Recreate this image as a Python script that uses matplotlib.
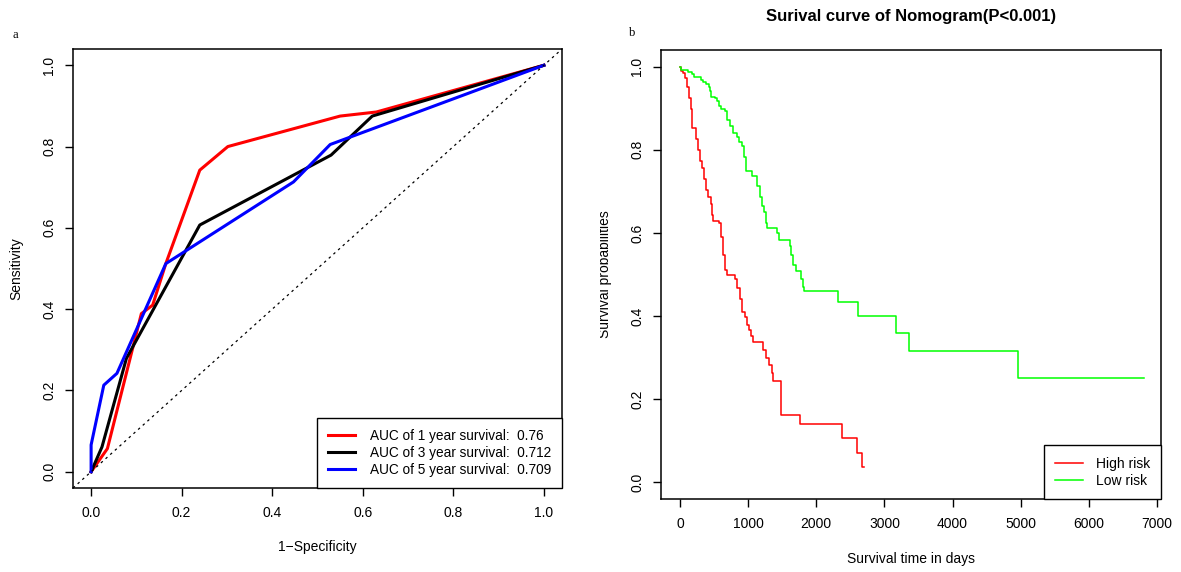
import numpy as np
import matplotlib
matplotlib.use("Agg")
import matplotlib.pyplot as plt
from matplotlib.transforms import Bbox, TransformedBbox

plt.rcParams["font.family"] = ["Liberation Sans", "DejaVu Sans"]

# ROC curves (1-specificity, sensitivity)
fpr_1y = [0, 0.036, 0.111, 0.136, 0.165, 0.24, 0.302, 0.55, 0.63, 1.0]
tpr_1y = [0, 0.057, 0.389, 0.41, 0.512, 0.742, 0.80, 0.875, 0.885, 1.0]
fpr_3y = [0, 0.024, 0.078, 0.24, 0.53, 0.621, 1.0]
tpr_3y = [0, 0.061, 0.279, 0.607, 0.779, 0.875, 1.0]
fpr_5y = [0, 0, 0.028, 0.057, 0.165, 0.447, 0.528, 1.0]
tpr_5y = [0, 0.066, 0.213, 0.242, 0.512, 0.713, 0.805, 1.0]
auc_labels = ["AUC of 1 year survival:  0.76",
              "AUC of 3 year survival:  0.712",
              "AUC of 5 year survival:  0.709"]

# Kaplan-Meier steps (days, survival)
t_high = [0, 20, 44, 72, 100, 127, 155, 175, 232, 266, 294, 321, 349, 377,
          416, 449, 471, 488, 571, 599, 626, 654, 693, 804, 837, 876, 904,
          948, 976, 1014, 1042, 1067, 1224, 1269, 1303, 1350, 1371, 1487,
          1766, 2378, 2599, 2667, 2700]
s_high = [1.0, 0.99, 0.985, 0.972, 0.95, 0.924, 0.897, 0.853, 0.827, 0.80,
          0.774, 0.757, 0.730, 0.704, 0.687, 0.669, 0.643, 0.629, 0.625,
          0.59, 0.546, 0.511, 0.498, 0.489, 0.467, 0.441, 0.41, 0.397,
          0.379, 0.366, 0.353, 0.338, 0.318, 0.30, 0.283, 0.263, 0.245,
          0.163, 0.141, 0.106, 0.071, 0.037, 0.037]
t_low = [0, 17, 116, 172, 210, 305, 338, 377, 421, 438, 460, 516, 543, 571,
         599, 654, 693, 737, 782, 837, 865, 904, 942, 970, 1059, 1136, 1170,
         1208, 1236, 1264, 1280, 1430, 1447, 1608, 1624, 1652, 1707, 1779,
         1802, 1824, 2315, 2605, 3176, 3359, 4967, 6813]
s_low = [1.0, 0.991, 0.987, 0.982, 0.976, 0.969, 0.963, 0.958, 0.952, 0.941,
         0.928, 0.925, 0.917, 0.906, 0.899, 0.893, 0.871, 0.858, 0.840,
         0.831, 0.818, 0.809, 0.783, 0.75, 0.737, 0.713, 0.687, 0.665, 0.651,
         0.625, 0.612, 0.599, 0.583, 0.568, 0.546, 0.524, 0.508, 0.489,
         0.471, 0.461, 0.433, 0.400, 0.36, 0.315, 0.252, 0.252]

W, H = 1181, 572


def px_axes(fig, x0, y0, x1, y1):
    # pixel box (top-left origin) -> figure fraction axes
    return fig.add_axes([x0 / W, 1 - y1 / H, (x1 - x0) / W, (y1 - y0) / H])


def style(ax):
    for s in ax.spines.values():
        s.set_linewidth(1.1)
    ax.tick_params(length=6, width=1.0, labelsize=10, direction="out")
    ax.tick_params(axis="x", pad=7)
    ax.tick_params(axis="y", pad=6)
    for lab in ax.get_yticklabels():
        lab.set_rotation(90)
        lab.set_va("center")


fig = plt.figure(figsize=(W / 100, H / 100), dpi=100)

# ---- panel a: ROC
ax1 = px_axes(fig, 73, 49, 562, 488)
ax1.plot(fpr_1y, tpr_1y, color="#FF0000", lw=2.2, label=auc_labels[0])
ax1.plot(fpr_3y, tpr_3y, color="black", lw=2.2, label=auc_labels[1])
ax1.plot(fpr_5y, tpr_5y, color="#0000FF", lw=2.2, label=auc_labels[2])
ax1.axline((0, 0), slope=1, color="black", ls=(0, (2, 3)), lw=0.9)
ax1.set_xlim(-0.04, 1.04)
ax1.set_ylim(-0.04, 1.04)
ax1.set_xticks(np.arange(0, 1.01, 0.2))
ax1.set_yticks(np.arange(0, 1.01, 0.2))
ax1.set_xticklabels([f"{v:.1f}" for v in np.arange(0, 1.01, 0.2)])
ax1.set_yticklabels([f"{v:.1f}" for v in np.arange(0, 1.01, 0.2)])
style(ax1)
ax1.set_xlabel("1\u2212Specificity", fontsize=10, labelpad=14)
ax1.set_ylabel("Sensitivity", fontsize=10, labelpad=14)
leg1 = ax1.legend(loc="lower right", fontsize=9.8, frameon=True, fancybox=False,
                  edgecolor="black", framealpha=1, borderaxespad=0,
                  handlelength=2.0, handletextpad=1.1, labelspacing=0.24,
                  borderpad=0.8)
leg1.get_frame().set_linewidth(1.0)

# ---- panel b: Kaplan-Meier
ax2 = px_axes(fig, 661, 50, 1161, 499)
ax2.plot(t_high, s_high, drawstyle="steps-post", color="#FF0000", lw=1.1,
         label="High risk")
ax2.plot(t_low, s_low, drawstyle="steps-post", color="#00FF00", lw=1.1,
         label="Low risk")
ax2.set_xlim(-279, 7059)
ax2.set_ylim(-0.04, 1.04)
ax2.set_xticks(range(0, 7001, 1000))
ax2.set_yticks(np.arange(0, 1.01, 0.2))
ax2.set_yticklabels([f"{v:.1f}" for v in np.arange(0, 1.01, 0.2)])
style(ax2)
ax2.set_xlabel("Survival time in days", fontsize=10, labelpad=15)
ax2.set_ylabel("Survival probabilities", fontsize=10, labelpad=13)
# the source panel was cropped through this label
clip = TransformedBbox(Bbox.from_extents(599.5 / W, 0, 1, 1), fig.transFigure)
ax2.yaxis.label.set_clip_box(clip)
ax2.yaxis.label.set_clip_on(True)
ax2.set_title("Surival curve of Nomogram(P<0.001)", fontsize=12,
              fontweight="bold", pad=21)
leg2 = ax2.legend(loc="lower right", fontsize=10, frameon=True, fancybox=False,
                  edgecolor="black", framealpha=1, borderaxespad=0,
                  handlelength=2.0, handletextpad=0.9, labelspacing=0.24,
                  borderpad=0.8)
leg2.get_frame().set_linewidth(1.0)

fig.text(15 / W, 1 - 35 / H, "a", family="Liberation Serif", fontsize=9,
         ha="center", va="center")
fig.text(632 / W, 1 - 33 / H, "b", family="Liberation Serif", fontsize=9,
         ha="center", va="center")

fig.savefig("out.png", dpi=100)
